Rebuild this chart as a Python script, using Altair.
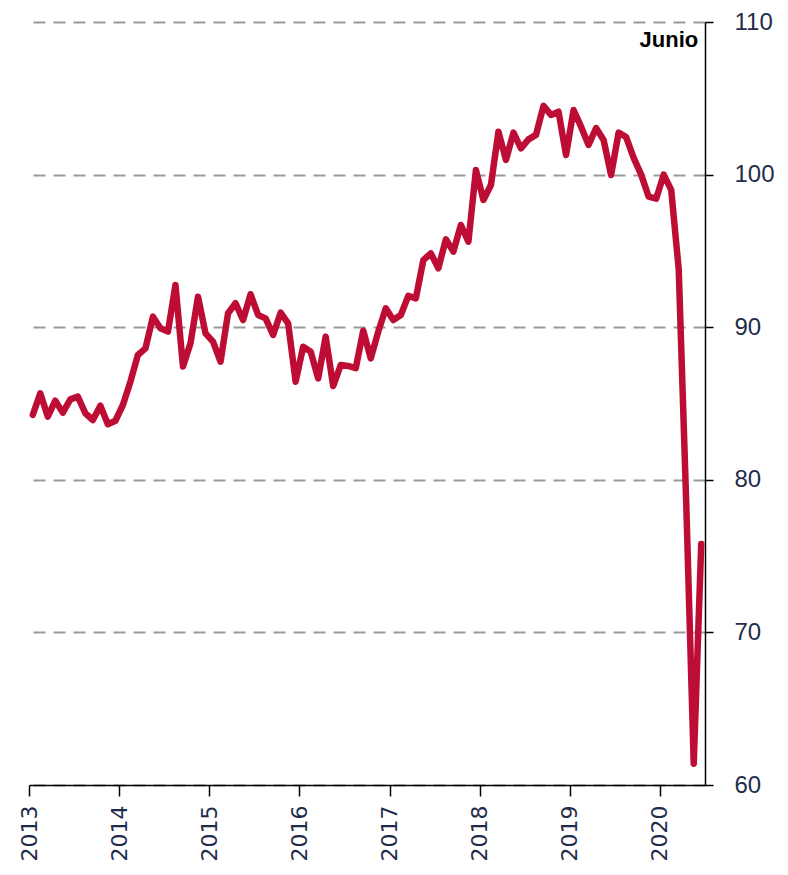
import altair as alt
import pandas as pd

# Monthly index, Jan 2013 - Jun 2020
start_year = 2013
values = [
    84.25, 85.67, 84.14, 85.19, 84.40, 85.27, 85.45, 84.36, 83.92, 84.86, 83.64, 83.87,
    84.90, 86.43, 88.18, 88.61, 90.69, 89.93, 89.71, 92.77, 87.42, 88.95, 92.00, 89.60,
    89.05, 87.74, 90.91, 91.57, 90.47, 92.16, 90.80, 90.58, 89.49, 90.95, 90.25, 86.43,
    88.72, 88.40, 86.65, 89.38, 86.15, 87.52, 87.46, 87.31, 89.77, 87.96, 89.71, 91.24,
    90.47, 90.80, 92.05, 91.89, 94.40, 94.84, 93.86, 95.76, 94.95, 96.70, 95.60, 100.30,
    98.34, 99.32, 102.81, 100.96, 102.75, 101.72, 102.31, 102.60, 104.50, 103.91, 104.12, 101.28,
    104.23, 103.14, 101.94, 103.05, 102.27, 99.97, 102.75, 102.46, 101.10, 100.00, 98.55, 98.42,
    100.00, 99.00, 93.80, 78.50, 61.40, 75.80,
]
years = ["2013", "2014", "2015", "2016", "2017", "2018", "2019", "2020"]
y_ticks = [60, 70, 80, 90, 100, 110]
label_text = ["Junio"]
label_y = [108.35]

n = len(values)
df = pd.DataFrame({
    "mes": [f"{start_year + i // 12}-{i % 12 + 1:02d}" for i in range(n)],
    "pos": [i + 0.5 for i in range(n)],
    "valor": values,
})
lab = pd.DataFrame({"pos": [n - 0.5], "y": label_y, "t": label_text})

year_expr = "[" + ",".join(f"'{y}'" for y in years) + "][round(datum.value / 12)]"

x_scale = alt.Scale(domain=[0, n], nice=False, zero=False)
y_scale = alt.Scale(domain=[60, 110], nice=False, zero=False)

navy = "#1F2D4A"

line = alt.Chart(df).mark_line(
    color="#BE0D34", strokeWidth=6.5, strokeJoin="round", strokeCap="round"
).encode(
    x=alt.X("pos:Q", scale=x_scale, axis=alt.Axis(
        values=[12 * i for i in range(len(years))],
        labelExpr=year_expr,
        labelAngle=-90,
        labelFont="DejaVu Sans",
        labelFontSize=22,
        labelColor=navy,
        labelPadding=9,
        tickSize=11,
        tickColor="black",
        tickWidth=1.5,
        domainColor="black",
        domainWidth=1.5,
        grid=False,
        title=None,
    )),
    y=alt.Y("valor:Q", scale=y_scale, axis=alt.Axis(
        orient="right",
        values=y_ticks,
        labelFont="Liberation Sans",
        labelFontSize=24,
        labelColor=navy,
        labelAlign="left",
        labelPadding=21,
        tickSize=8,
        tickColor="black",
        tickWidth=1.5,
        domainColor="black",
        domainWidth=1.5,
        grid=True,
        gridColor="#9A9A9A",
        gridWidth=2,
        gridDash=[12, 8],
        title=None,
    )),
)

text = alt.Chart(lab).mark_text(
    align="right", baseline="alphabetic", dx=-3,
    font="Liberation Sans", fontWeight="bold", fontSize=22, color="black",
).encode(
    x=alt.X("pos:Q", scale=x_scale),
    y=alt.Y("y:Q", scale=y_scale),
    text="t:N",
)

chart = alt.layer(line, text).properties(
    width=676,
    height=763,
    autosize=alt.AutoSizeParams(type="none"),
    padding={"left": 21, "top": 14, "right": 75, "bottom": 80},
).configure_view(stroke=None)

chart.save("out.html", embed_options={"renderer": "svg", "actions": False})
